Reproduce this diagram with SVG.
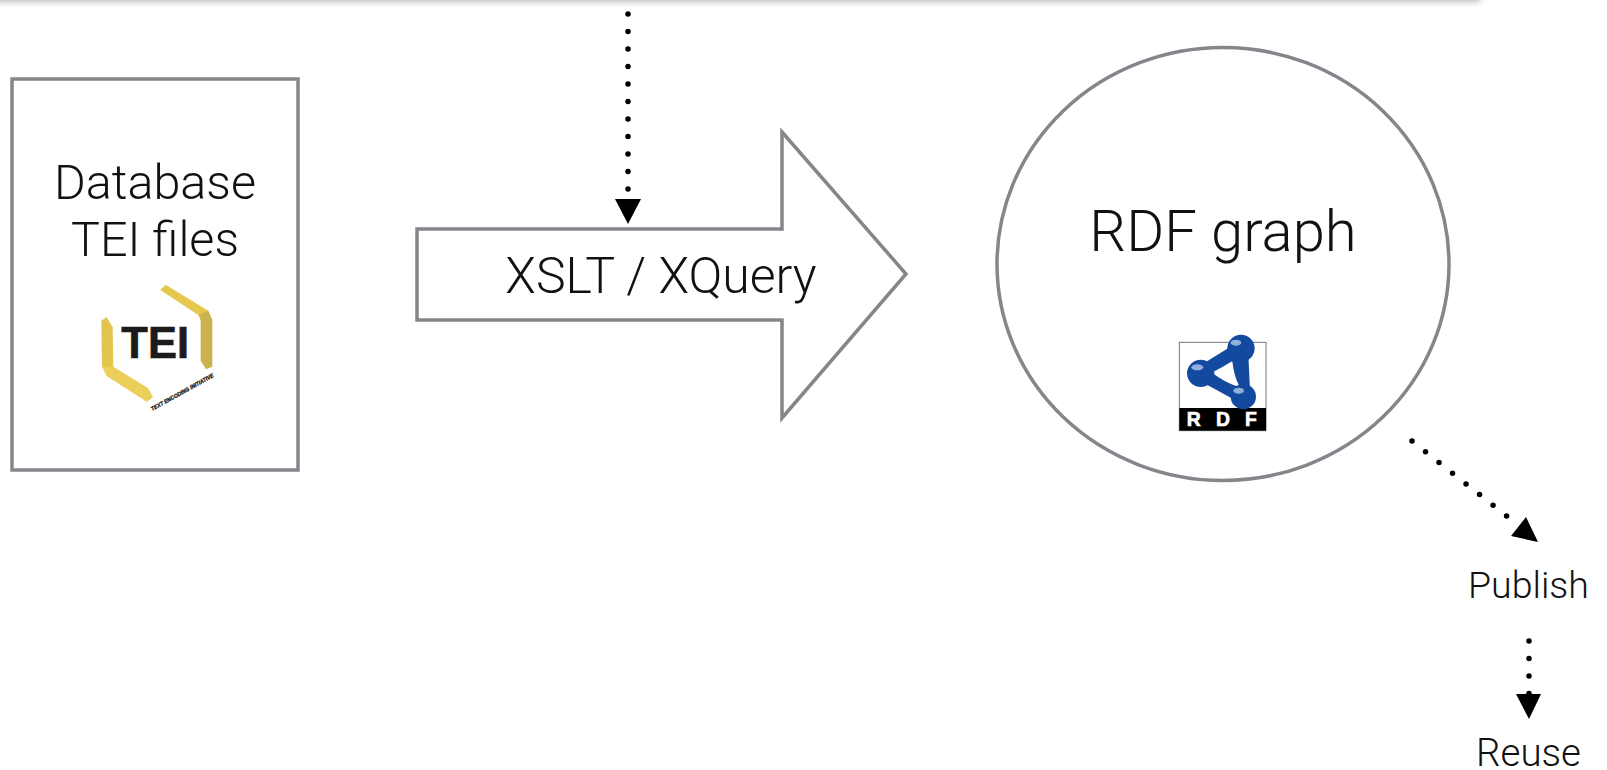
<svg xmlns="http://www.w3.org/2000/svg" width="1607" height="770" viewBox="0 0 1607 770">
<style>
text{font-family:"Roboto","Liberation Sans",sans-serif;font-weight:300;fill:#111}
.big{font-size:48.500px}.xq{font-size:50px}.rg{font-size:58px}.sm{font-size:37.500px}.re{font-size:38.500px}
.shape{fill:#fff;stroke:#85868b;stroke-width:3.500}
.dots{fill:none;stroke:#000;stroke-width:5.500;stroke-linecap:round;stroke-dasharray:0 17.500}
.head{fill:#000}
.lb{font-family:"Liberation Sans",sans-serif;font-weight:700;fill:#fff;font-size:58px;stroke:#fff;stroke-width:2}
</style>
<defs><filter id="blur" x="-5%" y="-300%" width="110%" height="700%"><feGaussianBlur stdDeviation="3.500"/></filter></defs>
<rect width="1607" height="770" fill="#fff"/>
<g id="top-shadow"><rect x="-20" y="-12" width="1500" height="13" fill="#aaa" filter="url(#blur)"/></g>
<g id="database">
<rect class="shape" x="12" y="79" width="286" height="391"/>
<text class="big" x="155" y="199" text-anchor="middle">Database</text>
<text class="big" x="155" y="256" text-anchor="middle">TEI files</text>
<g transform="translate(80 270) scale(.3333)">
<polygon fill="#e6c84e" points="241,60 257,44 385,122 362,150 356,136"/>
<polygon fill="#cbb250" points="356,134 385,122 397,150 397,290 378,298 362,272 362,150"/>
<polygon fill="#e3c44c" points="64,152 80,141 98,172 100,293 84,300 66,290"/>
<polygon fill="#eccf58" points="66,290 84,292 100,290 205,355 219,382 200,395 80,318"/>
<text x="124" y="265" font-size="132" textLength="203" lengthAdjust="spacingAndGlyphs" style="font-family:'Liberation Sans',sans-serif;font-weight:700;fill:#1b1b1b;stroke:#1b1b1b;stroke-width:2">TEI</text>
<text transform="translate(217 423) rotate(-29)" font-size="17" textLength="212" lengthAdjust="spacingAndGlyphs" style="font-family:'Liberation Sans',sans-serif;font-weight:700;font-style:italic;fill:#222;stroke:#222;stroke-width:1">TEXT ENCODING INITIATIVE</text>
</g>
</g>
<g id="xslt">
<polygon class="shape" points="417,229 782,229 782,132 906,274 782,418 782,320 417,320"/>
<text class="xq" x="661" y="293" text-anchor="middle">XSLT / XQuery</text>
</g>
<g id="rdf">
<ellipse class="shape" cx="1223" cy="264" rx="226" ry="216.500"/>
<text class="rg" x="1223" y="251" text-anchor="middle">RDF graph</text>
<g transform="translate(1160 320) scale(.3333)">
<rect x="58" y="67" width="260" height="265" fill="#fff" stroke="#777" stroke-width="3"/>
<rect x="58" y="264" width="260" height="68" fill="#000"/>
<path d="M122 160 L243 85 L250 230 Z" fill="#134a9f" stroke="#134a9f" stroke-width="42" stroke-linejoin="round"/>
<path d="M160 158 Q190 143 215 127 Q220 170 235 198 Q195 185 160 158Z" fill="#fff" stroke="#fff" stroke-width="5" stroke-linejoin="round"/>
<circle cx="122" cy="160" r="41" fill="#134a9f"/>
<circle cx="243" cy="85" r="41" fill="#134a9f"/>
<circle cx="250" cy="230" r="38" fill="#134a9f"/>
<ellipse cx="112" cy="142" rx="18" ry="9" fill="#8fb0dc"/>
<ellipse cx="228" cy="68" rx="16" ry="9" fill="#8fb0dc"/>
<ellipse cx="236" cy="212" rx="16" ry="9" fill="#8fb0dc"/>
<text class="lb" x="80" y="318">R</text>
<text class="lb" x="168" y="318">D</text>
<text class="lb" x="255" y="318">F</text>
</g>
</g>
<g id="publish"><text class="sm" x="1528.500" y="598" text-anchor="middle">Publish</text></g>
<g id="reuse"><text class="re" x="1528.500" y="766" text-anchor="middle">Reuse</text></g>
<g id="connectors">
<path class="dots" d="M628 14V190"/>
<polygon class="head" points="615,199 641,199 628,224"/>
<path class="dots" d="M1412 441L1509 518" style="stroke-dasharray:0 17.250"/>
<polygon class="head" points="1526,517 1511,536 1538,542"/>
<path class="dots" d="M1529 641V694"/>
<polygon class="head" points="1516,694 1541,694 1529,719"/>
</g>
</svg>
